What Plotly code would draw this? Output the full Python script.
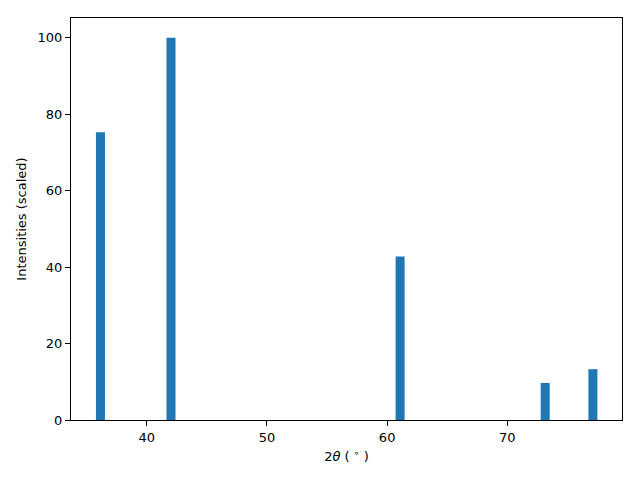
import plotly.graph_objects as go

two_theta = [36.15, 42.02, 61.08, 73.15, 77.12]
intensity = [75.3, 100.0, 42.8, 9.7, 13.3]
bar_width = 0.75
x_ticks = [40, 50, 60, 70]
y_ticks = [0, 20, 40, 60, 80, 100]

fig = go.Figure(go.Bar(x=two_theta, y=intensity, width=bar_width,
                       marker=dict(color="#1f77b4", line=dict(width=0))))

axis_common = dict(showline=True, linecolor="black", linewidth=1, mirror=True,
                   ticks="outside", ticklen=5, tickwidth=1, tickcolor="black",
                   showgrid=False, zeroline=False, automargin=False,
                   tickfont=dict(family="DejaVu Sans", size=13, color="black"))

fig.update_layout(
    width=640, height=480,
    margin=dict(l=71, r=18, t=18, b=60),
    plot_bgcolor="white", paper_bgcolor="white",
    showlegend=False,
    font=dict(family="DejaVu Sans", size=13, color="black"),
    xaxis=dict(range=[33.70, 79.54], tickvals=x_ticks,
               title=dict(text="2<i>θ</i> ( <sup>∘</sup> )", standoff=8,
                          font=dict(family="DejaVu Sans", size=13)),
               **axis_common),
    yaxis=dict(range=[0, 105.2], tickvals=y_ticks,
               title=dict(text="Intensities (scaled)", standoff=8,
                          font=dict(family="DejaVu Sans", size=13)),
               **axis_common),
)

fig.write_html("out.html", config={"displayModeBar": False},
               post_script="document.body.style.margin='0';document.body.style.padding='0';")
